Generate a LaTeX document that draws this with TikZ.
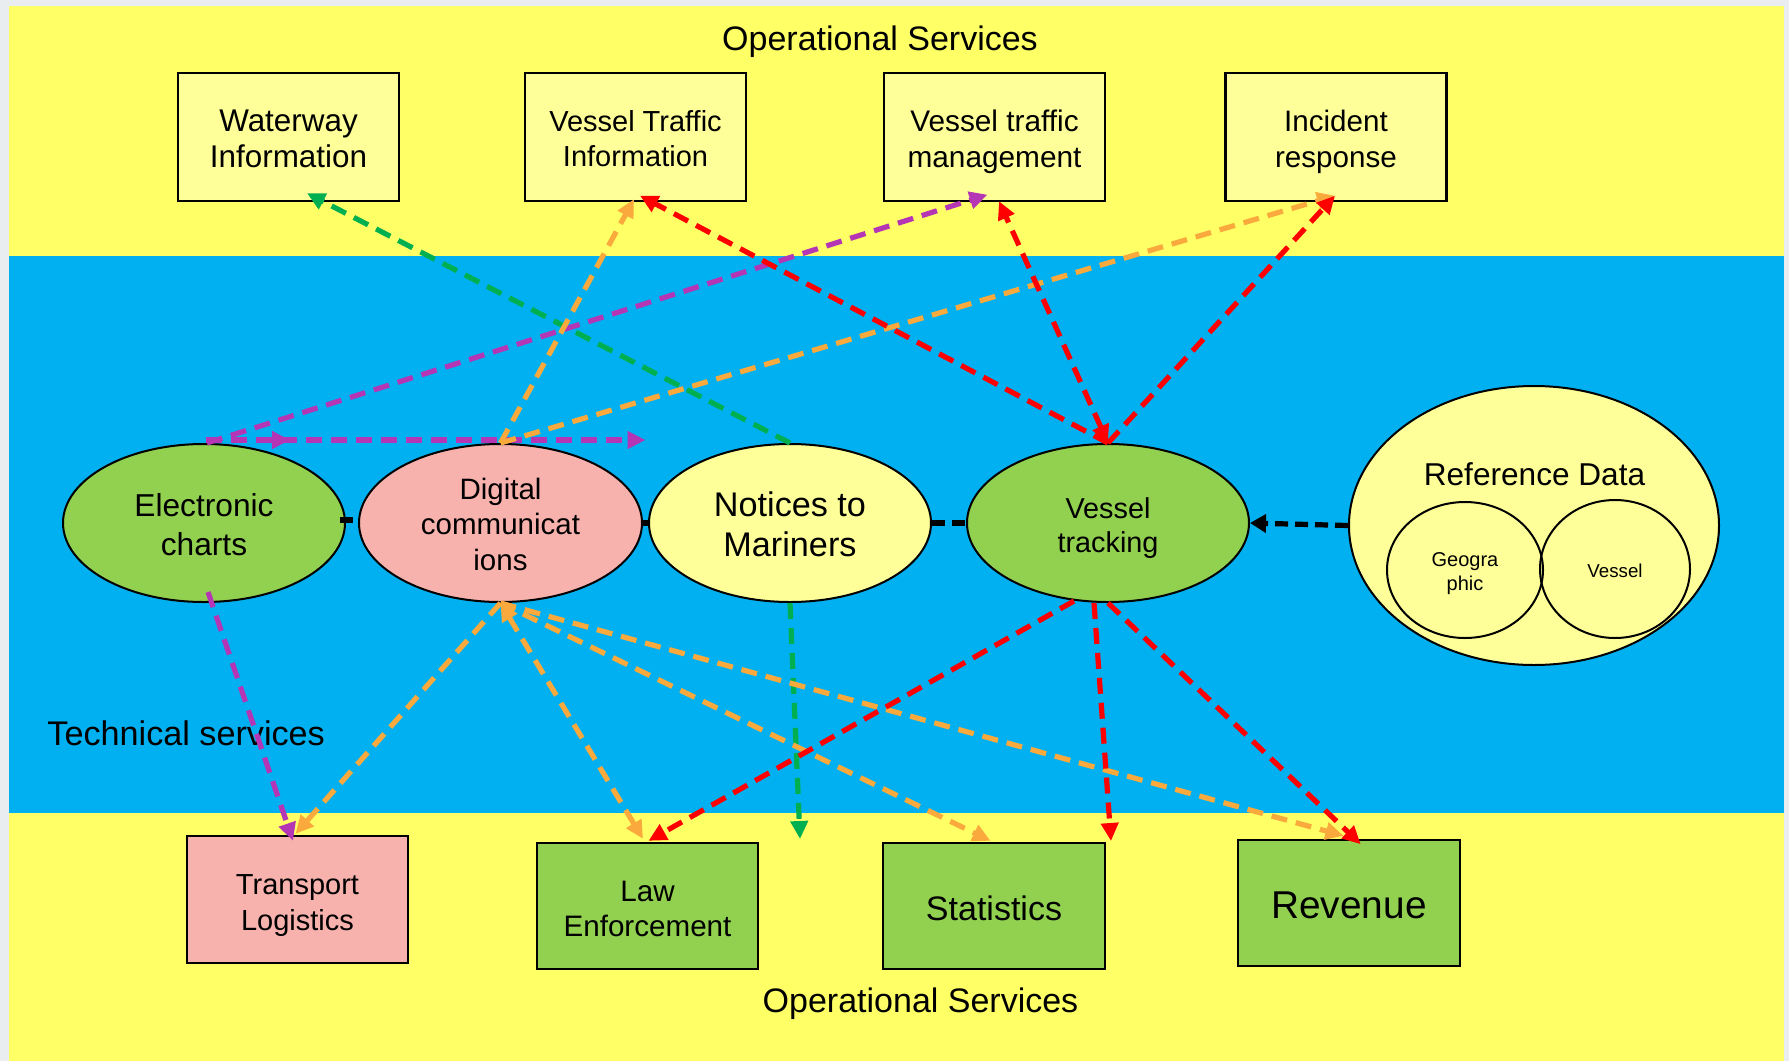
\documentclass[tikz,border=0pt]{standalone}
\usepackage{fontspec}
\setmainfont{Liberation Sans}
\usetikzlibrary{arrows.meta,shapes.geometric,calc}
\definecolor{pagegrey}{HTML}{E9EDEF}
\definecolor{bgyel}{HTML}{FFFF66}
\definecolor{bgblue}{HTML}{00B0F0}
\definecolor{lyel}{HTML}{FFFF99}
\definecolor{lgreen}{HTML}{92D050}
\definecolor{lpink}{HTML}{F8B2AE}
\definecolor{agreen}{HTML}{00B050}
\definecolor{apurple}{HTML}{B536B5}
\definecolor{aorange}{HTML}{FAAA3C}
\definecolor{ared}{HTML}{FF0000}
\newcommand\topgap[1]{\rule{0pt}{#1}}
\begin{document}
\begin{tikzpicture}[x=0.5pt,y=-0.5pt,
 box/.style={rectangle,draw=black,line width=1.2pt,minimum width=110.5pt,minimum height=64pt,inner sep=0pt,align=center},
 oval/.style={ellipse,draw=black,line width=1pt,minimum width=141pt,minimum height=79pt,inner sep=0pt,align=center},
 conn/.style={line width=2.6pt,dash pattern=on 8pt off 4.5pt},
 arr/.style={conn,-{Triangle[length=9pt,width=8.5pt]}},
 biarr/.style={conn,{Triangle[length=9pt,width=8.5pt]}-{Triangle[length=9pt,width=8.5pt]}},
 blk/.style={line width=2.6pt,dash pattern=on 6.5pt off 3.5pt,draw=black},
 lbl/.style={inner sep=0pt,align=center}]

\useasboundingbox (0,0) rectangle (1789,1061);
\fill[pagegrey] (0,0) rectangle (1789,1061);
\fill[bgyel] (9,6) rectangle (1784,1061);
\fill[bgblue] (9,256) rectangle (1784,813);

% titles
\node[lbl,font=\fontsize{17}{20}\selectfont] (top) at (880,41.5) {Operational Services};
\node[lbl,font=\fontsize{17}{20}\selectfont] (bot) at (920.5,1003.5) {Operational Services};
\node[lbl,anchor=west,font=\fontsize{17.1}{20}\selectfont] (tech) at (47,733) {Technical services};

% top boxes
\node[box,fill=lyel,font=\fontsize{15.7}{18}\selectfont] (wi) at (288.5,137) {\topgap{13.1pt}Waterway\\Information};
\node[box,fill=lyel,font=\fontsize{14.5}{17.5}\selectfont] (vti) at (635.5,137) {\topgap{12.2pt}Vessel Traffic\\Information};
\node[box,fill=lyel,font=\fontsize{14.9}{18}\selectfont] (vtm) at (994.5,137) {\topgap{15.5pt}Vessel traffic\\management};
\node[box,fill=lyel,font=\fontsize{14.8}{18}\selectfont] (ir) at (1336,137) {\topgap{15.2pt}Incident\\response};

% bottom boxes
\node[box,fill=lpink,minimum height=63.5pt,font=\fontsize{14.5}{18.25}\selectfont] (tl) at (297.5,899.5) {\topgap{16.1pt}Transport\\Logistics};
\node[box,fill=lgreen,minimum height=63pt,font=\fontsize{14.8}{17.5}\selectfont] (le) at (647.5,906) {\topgap{13.4pt}Law\\Enforcement};
\node[box,fill=lgreen,minimum width=111pt,minimum height=63pt,font=\fontsize{17}{20}\selectfont] (st) at (994,906) {\topgap{14.2pt}Statistics};
\node[box,fill=lgreen,minimum width=111pt,minimum height=63pt,font=\fontsize{19.4}{22}\selectfont] (rv) at (1349,903) {\topgap{15.9pt}Revenue};

% ellipses
\node[oval,fill=lgreen,font=\fontsize{15.85}{19.5}\selectfont] (ec) at (204,523) {\topgap{13.1pt}Electronic\\charts};
\node[oval,fill=lpink,minimum width=141.5pt,font=\fontsize{14.75}{17.75}\selectfont] (dc) at (500.5,523) {\topgap{12.1pt}Digital\\communicat\\ions};
\node[oval,fill=lyel,font=\fontsize{17.1}{20}\selectfont] (nm) at (790,523) {\topgap{13.9pt}Notices to\\Mariners};
\node[oval,fill=lgreen,font=\fontsize{14.4}{17}\selectfont] (vt) at (1108,523) {\topgap{15.5pt}Vessel\\tracking};
\node[oval,fill=lyel,minimum width=185pt,minimum height=139.5pt] (rd) at (1534,525.5) {};
\node[oval,minimum width=78pt,minimum height=68pt,font=\fontsize{10}{12}\selectfont] (geo) at (1465,570) {\topgap{10.6pt}Geogra\\phic};
\node[oval,minimum width=75pt,minimum height=69pt,font=\fontsize{9.35}{11}\selectfont] (ves) at (1615,569) {\topgap{8.7pt}Vessel};
\node[lbl,font=\fontsize{15.8}{19}\selectfont] (rdt) at (1534.5,474) {Reference Data};

% black connectors
\draw[blk] ([shift={(-3pt,1.5pt)}]ec.east) -- ([yshift=1.5pt]dc.west);
\draw[blk] (dc.east) -- (nm.west);
\draw[blk] (nm.east) -- (vt.west);
\draw[blk,-{Triangle[length=8pt,width=9pt]}] (rd.west) -- (vt.east);

% green
\draw[arr,agreen] (nm.north) -- ($(wi.south)+(18.5,-9)$);
\draw[arr,agreen] (nm.south) -- ($(nm.south)+(10,236)$);

% purple
\draw[arr,apurple] ($(ec.north)+(3,0)$) -- ($(vtm.south)+(-7,-7.5)$);
\draw[arr,apurple] ($(ec.north)+(2,-3)$) -- ($(dc.north)+(145,-3)$);
\draw[arr,apurple] ($(ec.north)+(2,-3)$) -- ($(ec.north)+(86,-3)$);
\draw[arr,apurple] ($(ec.south)+(4,-11)$) -- ($(tl.north)+(-4.5,6)$);

% orange
\draw[arr,aorange] (dc.north) -- ($(vti.south)+(-1.5,-3)$);
\draw[arr,aorange] (dc.north) -- ($(ir.south)+(-1,-6.5)$);
\draw[arr,aorange] (dc.south) -- ($(tl.north)+(-2,-1)$);
\draw[biarr,aorange] (dc.south) -- ($(le.north)+(-4.5,-3)$);
\draw[arr,aorange] (dc.south) -- ($(st.north)+(-3.5,-1)$);
\draw[arr,aorange] (dc.south) -- ($(rv.north)+(-5.5,-3)$);

% red
\draw[arr,ared] (vt.north) -- ($(vti.south)+(4.5,-6.5)$);
\draw[biarr,ared] (vt.north) -- ($(vtm.south)+(4.5,-1)$);
\draw[arr,ared] (vt.north) -- ($(ir.south)+(-1,-6.5)$);
\draw[arr,ared] ($(vt.south)+(-34,-2)$) -- ($(le.north)+(1,-1)$);
\draw[arr,ared] ($(vt.south)+(-14,0)$) -- ($(vt.south)+(3,238)$);
\draw[arr,ared] (vt.south) -- ($(rv.north)+(11.7,5.4)$);
\end{tikzpicture}
\end{document}
